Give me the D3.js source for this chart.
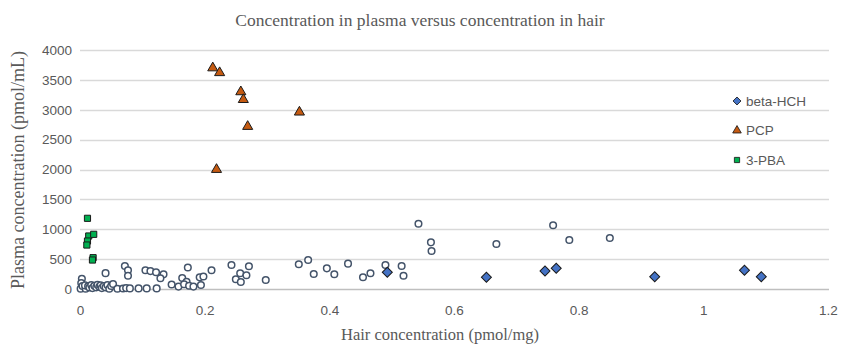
<!DOCTYPE html>
<html lang="en">
<head>
<meta charset="UTF-8" />
<title>Concentration in plasma versus concentration in hair</title>
<script src="https://cdn.jsdelivr.net/npm/d3@7"></script>
<style>
  body { margin: 0; background: #fff; }
</style>
</head>
<body>
<svg id="vis" width="843" height="345"></svg>
<script>
// beta-HCH [hair, plasma]
var betaHCH = [[0.493, 279], [0.652, 196], [0.746, 301], [0.764, 346], [0.922, 206], [1.066, 313], [1.093, 206]];
// PCP
var pcp = [[0.213, 3700], [0.224, 3620], [0.258, 3300], [0.262, 3170], [0.352, 2960], [0.269, 2720], [0.219, 2000]];
// 3-PBA
var pba = [[0.012, 1183], [0.014, 887], [0.022, 915], [0.012, 803], [0.011, 736], [0.021, 524], [0.020, 485]];
// other samples (open circles, no legend entry)
var others = [
  [0.001, 5], [0.003, 172], [0.002, 100], [0.004, 50], [0.009, 5], [0.008, 60], [0.013, 45], [0.015, 25],
  [0.018, 65], [0.020, 15], [0.023, 55], [0.026, 28], [0.028, 70], [0.031, 38], [0.033, 60], [0.035, 15],
  [0.038, 50], [0.041, 28], [0.044, 65], [0.047, 5], [0.050, 50], [0.053, 84], [0.041, 265], [0.060, 5],
  [0.069, 8], [0.074, 15], [0.072, 385], [0.077, 313], [0.077, 223], [0.080, 10], [0.094, 10], [0.107, 10],
  [0.123, 10], [0.105, 315], [0.113, 300], [0.122, 280], [0.134, 245], [0.129, 180], [0.147, 75], [0.158, 40],
  [0.173, 360], [0.164, 185], [0.171, 122], [0.167, 80], [0.175, 55], [0.182, 40], [0.192, 195], [0.198, 210],
  [0.194, 67], [0.211, 315], [0.243, 402], [0.271, 380], [0.257, 263], [0.267, 229], [0.250, 162], [0.258, 117],
  [0.298, 151], [0.351, 413], [0.366, 485], [0.375, 251], [0.396, 346], [0.408, 246], [0.430, 424], [0.454, 196],
  [0.466, 263], [0.490, 402], [0.516, 385], [0.519, 223], [0.543, 1093], [0.563, 781], [0.564, 636], [0.668, 753],
  [0.759, 1066], [0.785, 820], [0.850, 854]
];

var xTicks = [0, 0.2, 0.4, 0.6, 0.8, 1, 1.2];
var yTicks = [0, 500, 1000, 1500, 2000, 2500, 3000, 3500, 4000];
var seriesNames = ["beta-HCH", "PCP", "3-PBA"];

var svg = d3.select("#vis");
var grey = "#595959";
var sans = "'Liberation Sans', Arial, sans-serif";
var serif = "'Liberation Serif', 'Times New Roman', serif";

var x = d3.scaleLinear().domain([0, 1.2]).range([80, 828]);
var y = d3.scaleLinear().domain([0, 4000]).range([289, 50]);

// grid lines
svg.append("g").selectAll("line")
  .data(yTicks.filter(function (d) { return d > 0; }))
  .join("line")
  .attr("x1", 80).attr("x2", 829)
  .attr("y1", function (d) { return Math.round(y(d)) + 0.5; })
  .attr("y2", function (d) { return Math.round(y(d)) + 0.5; })
  .attr("stroke", "#d9d9d9").attr("stroke-width", 1.3);

// y axis (labels only)
var gy = svg.append("g").attr("transform", "translate(80,0)")
  .call(d3.axisLeft(y).tickValues(yTicks).tickFormat(d3.format("d")).tickSize(0).tickPadding(8));
gy.select(".domain").remove();
gy.selectAll("text").attr("fill", grey).style("font-family", sans).style("font-size", "13.5px");

// x axis
var gx = svg.append("g").attr("transform", "translate(0," + (Math.round(y(0)) + 0.5) + ")")
  .call(d3.axisBottom(x).tickValues(xTicks).tickFormat(d3.format("~g")).tickSize(0).tickPadding(16));
gx.select(".domain").attr("stroke", "#bfbfbf").attr("stroke-width", 1.3).attr("d", "M80,0H829");
gx.selectAll("text").attr("fill", grey).style("font-family", sans).style("font-size", "13.5px");

// titles
svg.append("text").attr("x", 420).attr("y", 26).attr("text-anchor", "middle")
  .attr("fill", grey).style("font-family", serif).style("font-size", "17.5px")
  .text("Concentration in plasma versus concentration in hair");
svg.append("text").attr("x", 440).attr("y", 340).attr("text-anchor", "middle")
  .attr("fill", grey).style("font-family", serif).style("font-size", "16.5px")
  .text("Hair concentration (pmol/mg)");
svg.append("text").attr("transform", "translate(24,170) rotate(-90)").attr("text-anchor", "middle")
  .attr("fill", grey).style("font-family", serif).style("font-size", "18px")
  .text("Plasma concentration (pmol/mL)");

// markers
var diamond = d3.symbol().type(d3.symbolSquare).size(50)();
var triangle = d3.symbol().type(d3.symbolTriangle).size(44)();
var square = d3.symbol().type(d3.symbolSquare).size(38)();

svg.append("g").selectAll("circle")
  .data(others)
  .join("circle")
  .attr("cx", function (d) { return x(d[0]); })
  .attr("cy", function (d) { return y(d[1]); })
  .attr("r", 3.3)
  .attr("fill", "#fff").attr("stroke", "#44546a").attr("stroke-width", 1.5);

function drawSeries(data, path, fill, rot) {
  svg.append("g").selectAll("path")
    .data(data)
    .join("path")
    .attr("d", path)
    .attr("transform", function (d) { return "translate(" + x(d[0]) + "," + y(d[1]) + ")" + (rot ? " rotate(45)" : ""); })
    .attr("fill", fill).attr("stroke", "#1a1a1a").attr("stroke-width", 1);
}
drawSeries(betaHCH, diamond, "#4472c4", true);
drawSeries(pcp, triangle, "#c55a11", false);
drawSeries(pba, square, "#00b050", false);

// legend
var legend = [
  { name: seriesNames[0], path: diamond, fill: "#4472c4", rot: true },
  { name: seriesNames[1], path: triangle, fill: "#c55a11", rot: false },
  { name: seriesNames[2], path: square, fill: "#00b050", rot: false }
];
var lg = svg.append("g").selectAll("g").data(legend).join("g")
  .attr("transform", function (d, i) { return "translate(737," + (101 + i * 29.5) + ")"; });
lg.append("path")
  .attr("d", function (d) { return d.path; })
  .attr("transform", function (d) { return d.rot ? "rotate(45) scale(0.8)" : "scale(0.85)"; })
  .attr("fill", function (d) { return d.fill; }).attr("stroke", "#1a1a1a").attr("stroke-width", 1);
lg.append("text").attr("x", 9).attr("dy", "0.36em")
  .attr("fill", grey).style("font-family", sans).style("font-size", "13.5px")
  .text(function (d) { return d.name; });
</script>
</body>
</html>
